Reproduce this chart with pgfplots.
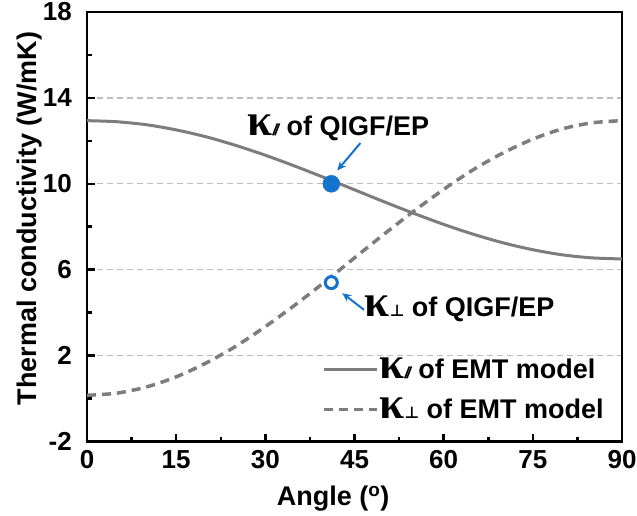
\documentclass[border=0pt]{standalone}
\usepackage{fontspec}
\setmainfont{Liberation Sans}
\newfontfamily\kfont{Liberation Serif}
\newfontfamily\dvfont{DejaVu Sans}
\usepackage{pgfplots}
\pgfplotsset{compat=1.18}
\usetikzlibrary{arrows.meta}
\definecolor{curvegray}{RGB}{125,125,125}
\definecolor{gridgray}{RGB}{190,190,190}
\definecolor{ptblue}{RGB}{20,115,205}
\newcommand{\kap}{{\kfont\fontsize{45}{45}\selectfont κ}}
\newcommand{\para}{{\fontsize{16}{16}\selectfont\itshape /\kern-2.5pt/}}
\newcommand{\perpsub}{{\dvfont\fontsize{16}{16}\selectfont ⊥}}
\begin{document}
\begin{tikzpicture}
\begin{axis}[
scale only axis,width=535pt,height=429.5pt,
xmin=0,xmax=90,ymin=-2,ymax=18,
xtick={0,15,...,90},ytick={-2,2,...,18},
minor x tick num=1,minor y tick num=1,
tick pos=left,tick align=inside,
major tick length=8pt,minor tick length=5pt,
every tick/.style={black,line width=2.5pt},
axis line style={line width=2.5pt},
ymajorgrids,
major grid style={gridgray,line width=1.3pt,dash pattern=on 6pt off 4pt},
/pgf/number format/assume math mode=true,
tick label style={font=\bfseries\fontsize{26}{30}\selectfont},
xticklabel style={inner sep=0pt,yshift=-9pt},
yticklabel style={inner sep=0pt,xshift=-15pt},
xlabel={Angle (\textsuperscript{o})},
ylabel={Thermal conductivity (W/mK)},
label style={font=\bfseries\fontsize{27}{30}\selectfont},
xlabel style={at={(axis description cs:0.46,0)},anchor=base,yshift=-64pt},
ylabel style={at={(axis description cs:-0.0935,0.519)},anchor=base},
legend style={draw=none,fill=none,at={(0.439,0.197)},anchor=north west,
  inner sep=0pt,row sep=16pt,font=\bfseries\fontsize{27}{30}\selectfont,
  nodes={inner sep=1pt}},
legend cell align=left,
legend image code/.code={\draw[#1] (0pt,0pt) -- (53pt,0pt);},
]
% EMT model, parallel
\addplot[curvegray,line width=3pt,smooth] coordinates {
(0,12.94) (5,12.89) (10,12.75) (15,12.51) (20,12.19) (25,11.79) (30,11.33)
(35,10.82) (40,10.28) (45,9.72) (50,9.16) (55,8.62) (60,8.11) (65,7.65)
(70,7.25) (75,6.93) (80,6.69) (85,6.55) (90,6.50)};
\addlegendentry{\kap\para\ of EMT model}
% EMT model, perpendicular
\addplot[curvegray,line width=3.5pt,dash pattern=on 9pt off 6pt,smooth] coordinates {
(0,0.15) (5,0.25) (10,0.54) (15,1.01) (20,1.65) (25,2.43) (30,3.35)
(35,4.36) (40,5.43) (45,6.55) (50,7.66) (55,8.73) (60,9.74) (65,10.66)
(70,11.44) (75,12.08) (80,12.56) (85,12.84) (90,12.94)};
\addlegendentry{\kap\perpsub\ of EMT model}
% QIGF/EP measurements
\addplot[only marks,mark=*,mark size=8.5pt,ptblue,forget plot] coordinates {(41.1,10.0)};
\addplot[only marks,mark=*,mark size=6pt,line width=3pt,draw=ptblue,fill=white,forget plot] coordinates {(41.1,5.4)};
\node[anchor=base west,inner sep=0pt,font=\bfseries\fontsize{27}{30}\selectfont] at (axis cs:27,12.24) {\kap\para\ of QIGF/EP};
\draw[ptblue,line width=2pt,-{Stealth[length=9pt,width=8pt]}] (axis cs:46.0,11.9) -- (axis cs:42.1,10.62);
\node[anchor=base west,inner sep=0pt,font=\bfseries\fontsize{27}{30}\selectfont] at (axis cs:46.7,3.82) {\kap\perpsub\ of QIGF/EP};
\draw[ptblue,line width=2pt,-{Stealth[length=9pt,width=8pt]}] (axis cs:46.6,4.13) -- (axis cs:42.95,4.91);
\end{axis}
\pgfresetboundingbox
\path (current axis.south west) ++(-87pt,-73.5pt);
\path (current axis.north east) ++(15pt,12pt);
\end{tikzpicture}
\end{document}
